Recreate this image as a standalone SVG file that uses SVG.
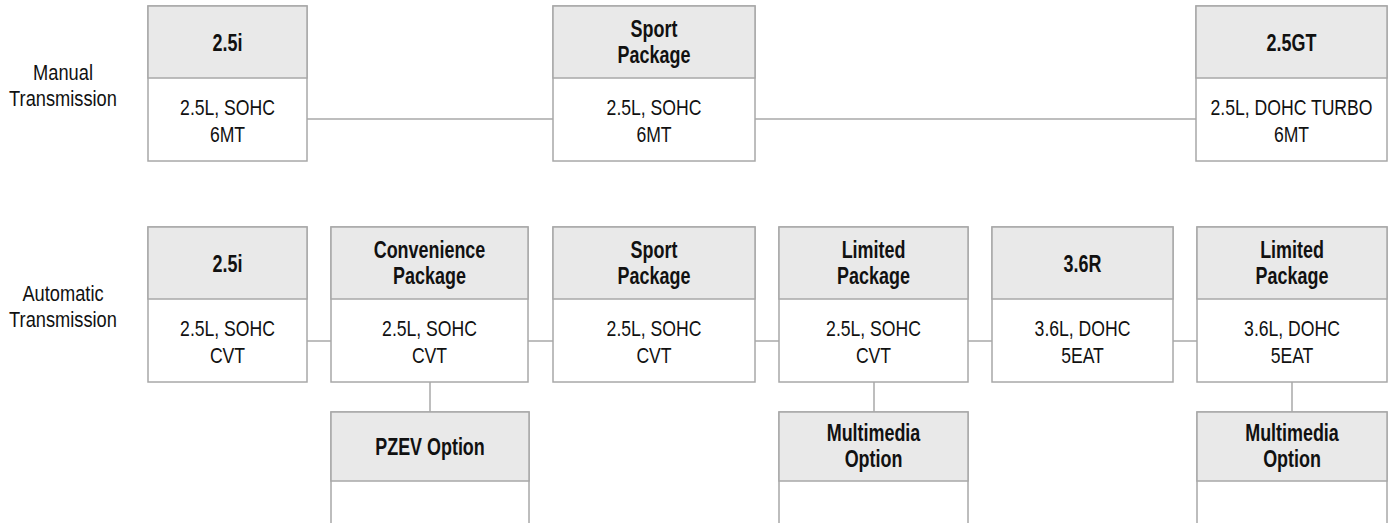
<svg xmlns="http://www.w3.org/2000/svg" width="1391" height="523" viewBox="0 0 1391 523">
<style>
.bg{fill:#ffffff}
.box{fill:#ffffff;stroke:#a8a8a8;stroke-width:1.5}
.hdr{fill:#e9e9e9;stroke:#a8a8a8;stroke-width:1.5}
.ln{stroke:#a8a8a8;stroke-width:1.5;fill:none}
.t{font-family:"Liberation Sans",Arial,sans-serif;font-size:22px;fill:#111;text-anchor:middle}
.b{font-family:"Liberation Sans",Arial,sans-serif;font-size:23px;font-weight:bold;fill:#111;text-anchor:middle}
</style>
<rect class="bg" x="0" y="0" width="1391" height="523"/>
<g id="connectors">
<line class="ln" x1="307" y1="119" x2="553" y2="119"/>
<line class="ln" x1="755" y1="119" x2="1196" y2="119"/>
<line class="ln" x1="307" y1="341" x2="331" y2="341"/>
<line class="ln" x1="528" y1="341" x2="553" y2="341"/>
<line class="ln" x1="755" y1="341" x2="779" y2="341"/>
<line class="ln" x1="968" y1="341" x2="992" y2="341"/>
<line class="ln" x1="1173" y1="341" x2="1197" y2="341"/>
<line class="ln" x1="430" y1="382" x2="430" y2="412"/>
<line class="ln" x1="874" y1="382" x2="874" y2="412"/>
<line class="ln" x1="1292" y1="382" x2="1292" y2="412"/>
</g>
<g id="label-manual">
<text class="t" transform="translate(63 80) scale(0.83 1)">Manual</text>
<text class="t" transform="translate(63 106) scale(0.83 1)">Transmission</text>
</g>
<g id="label-automatic">
<text class="t" transform="translate(63 301) scale(0.83 1)">Automatic</text>
<text class="t" transform="translate(63 327) scale(0.83 1)">Transmission</text>
</g>
<g id="m-25i">
<rect class="box" x="148" y="6" width="159" height="155"/>
<rect class="hdr" x="148" y="6" width="159" height="72"/>
<text class="b" transform="translate(227.5 51) scale(0.78 1)">2.5i</text>
<text class="t" transform="translate(227.5 115) scale(0.8 1)">2.5L, SOHC</text>
<text class="t" transform="translate(227.5 142) scale(0.8 1)">6MT</text>
</g>
<g id="m-sport">
<rect class="box" x="553" y="6" width="202" height="155"/>
<rect class="hdr" x="553" y="6" width="202" height="72"/>
<text class="b" transform="translate(654 37) scale(0.78 1)">Sport</text>
<text class="b" transform="translate(654 63) scale(0.78 1)">Package</text>
<text class="t" transform="translate(654 115) scale(0.8 1)">2.5L, SOHC</text>
<text class="t" transform="translate(654 142) scale(0.8 1)">6MT</text>
</g>
<g id="m-25gt">
<rect class="box" x="1196" y="6" width="191" height="155"/>
<rect class="hdr" x="1196" y="6" width="191" height="72"/>
<text class="b" transform="translate(1291.5 51) scale(0.78 1)">2.5GT</text>
<text class="t" transform="translate(1291.5 115) scale(0.8 1)">2.5L, DOHC TURBO</text>
<text class="t" transform="translate(1291.5 142) scale(0.8 1)">6MT</text>
</g>
<g id="a-25i">
<rect class="box" x="148" y="227" width="159" height="155"/>
<rect class="hdr" x="148" y="227" width="159" height="72"/>
<text class="b" transform="translate(227.5 272) scale(0.78 1)">2.5i</text>
<text class="t" transform="translate(227.5 336) scale(0.8 1)">2.5L, SOHC</text>
<text class="t" transform="translate(227.5 363) scale(0.8 1)">CVT</text>
</g>
<g id="a-convenience">
<rect class="box" x="331" y="227" width="197" height="155"/>
<rect class="hdr" x="331" y="227" width="197" height="72"/>
<text class="b" transform="translate(429.5 258) scale(0.78 1)">Convenience</text>
<text class="b" transform="translate(429.5 284) scale(0.78 1)">Package</text>
<text class="t" transform="translate(429.5 336) scale(0.8 1)">2.5L, SOHC</text>
<text class="t" transform="translate(429.5 363) scale(0.8 1)">CVT</text>
</g>
<g id="a-sport">
<rect class="box" x="553" y="227" width="202" height="155"/>
<rect class="hdr" x="553" y="227" width="202" height="72"/>
<text class="b" transform="translate(654 258) scale(0.78 1)">Sport</text>
<text class="b" transform="translate(654 284) scale(0.78 1)">Package</text>
<text class="t" transform="translate(654 336) scale(0.8 1)">2.5L, SOHC</text>
<text class="t" transform="translate(654 363) scale(0.8 1)">CVT</text>
</g>
<g id="a-limited">
<rect class="box" x="779" y="227" width="189" height="155"/>
<rect class="hdr" x="779" y="227" width="189" height="72"/>
<text class="b" transform="translate(873.5 258) scale(0.78 1)">Limited</text>
<text class="b" transform="translate(873.5 284) scale(0.78 1)">Package</text>
<text class="t" transform="translate(873.5 336) scale(0.8 1)">2.5L, SOHC</text>
<text class="t" transform="translate(873.5 363) scale(0.8 1)">CVT</text>
</g>
<g id="a-36r">
<rect class="box" x="992" y="227" width="181" height="155"/>
<rect class="hdr" x="992" y="227" width="181" height="72"/>
<text class="b" transform="translate(1082.5 272) scale(0.78 1)">3.6R</text>
<text class="t" transform="translate(1082.5 336) scale(0.8 1)">3.6L, DOHC</text>
<text class="t" transform="translate(1082.5 363) scale(0.8 1)">5EAT</text>
</g>
<g id="a-limited-36">
<rect class="box" x="1197" y="227" width="190" height="155"/>
<rect class="hdr" x="1197" y="227" width="190" height="72"/>
<text class="b" transform="translate(1292 258) scale(0.78 1)">Limited</text>
<text class="b" transform="translate(1292 284) scale(0.78 1)">Package</text>
<text class="t" transform="translate(1292 336) scale(0.8 1)">3.6L, DOHC</text>
<text class="t" transform="translate(1292 363) scale(0.8 1)">5EAT</text>
</g>
<g id="o-pzev">
<rect class="box" x="331" y="412" width="198" height="140"/>
<rect class="hdr" x="331" y="412" width="198" height="69"/>
<text class="b" transform="translate(430 455) scale(0.78 1)">PZEV Option</text>
</g>
<g id="o-multimedia-1">
<rect class="box" x="779" y="412" width="189" height="140"/>
<rect class="hdr" x="779" y="412" width="189" height="69"/>
<text class="b" transform="translate(873.5 441) scale(0.78 1)">Multimedia</text>
<text class="b" transform="translate(873.5 467) scale(0.78 1)">Option</text>
</g>
<g id="o-multimedia-2">
<rect class="box" x="1197" y="412" width="190" height="140"/>
<rect class="hdr" x="1197" y="412" width="190" height="69"/>
<text class="b" transform="translate(1292 441) scale(0.78 1)">Multimedia</text>
<text class="b" transform="translate(1292 467) scale(0.78 1)">Option</text>
</g>
</svg>
